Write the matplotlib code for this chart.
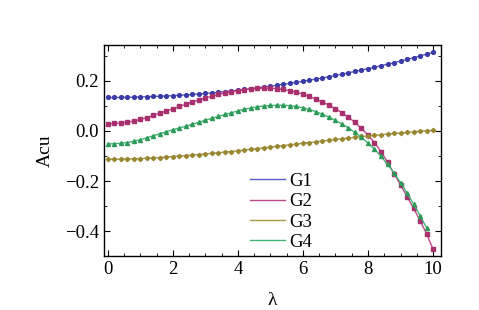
import matplotlib.pyplot as plt
from matplotlib.ticker import MultipleLocator
import numpy as np

# lambda grid (step 0.2)
lam = [round(0.2 * i, 1) for i in range(51)]

g1 = [0.134, 0.134, 0.134, 0.135, 0.135, 0.136, 0.137, 0.138, 0.139, 0.140,
      0.141, 0.143, 0.144, 0.146, 0.148, 0.150, 0.152, 0.155, 0.157, 0.160,
      0.163, 0.166, 0.169, 0.172, 0.176, 0.179, 0.183, 0.187, 0.190, 0.195,
      0.199, 0.203, 0.208, 0.212, 0.217, 0.222, 0.227, 0.233, 0.238, 0.244,
      0.249, 0.255, 0.261, 0.267, 0.273, 0.280, 0.286, 0.293, 0.300, 0.307,
      0.314]

g2 = [0.029, 0.030, 0.032, 0.035, 0.040, 0.046, 0.053, 0.062, 0.071, 0.080,
      0.089, 0.098, 0.107, 0.116, 0.124, 0.132, 0.139, 0.146, 0.152, 0.157,
      0.161, 0.165, 0.168, 0.170, 0.171, 0.171, 0.169, 0.166, 0.161, 0.155,
      0.147, 0.138, 0.127, 0.116, 0.103, 0.089, 0.073, 0.055, 0.034, 0.010,
      -0.016, -0.046, -0.082, -0.124, -0.170, -0.216, -0.262, -0.309, -0.358, -0.410,
      -0.473]

g3 = [-0.113, -0.113, -0.112, -0.112, -0.111, -0.110, -0.109, -0.107, -0.106, -0.104,
      -0.102, -0.100, -0.098, -0.096, -0.094, -0.092, -0.089, -0.087, -0.084, -0.082,
      -0.079, -0.076, -0.073, -0.070, -0.067, -0.064, -0.061, -0.058, -0.055, -0.052,
      -0.049, -0.046, -0.043, -0.040, -0.037, -0.034, -0.031, -0.028, -0.025, -0.022,
      -0.020, -0.017, -0.015, -0.012, -0.010, -0.008, -0.006, -0.003, -0.001, 0.001,
      0.003]

# G4 stops one step earlier
g4 = [-0.052, -0.051, -0.049, -0.046, -0.041, -0.035, -0.027, -0.019, -0.011, -0.003,
      0.005, 0.012, 0.019, 0.027, 0.035, 0.043, 0.051, 0.058, 0.066, 0.073,
      0.080, 0.087, 0.092, 0.097, 0.100, 0.102, 0.103, 0.103, 0.101, 0.098,
      0.093, 0.086, 0.077, 0.067, 0.055, 0.042, 0.028, 0.012, -0.006, -0.026,
      -0.048, -0.073, -0.101, -0.133, -0.168, -0.206, -0.248, -0.292, -0.338, -0.386]

labels = ["G1", "G2", "G3", "G4"]
line_colors = ["#5c5cc4", "#c2488e", "#a99a4e", "#46b474"]
marker_colors = ["#3b3ba8", "#a8306e", "#9a8630", "#2e9a58"]
markers = ["o", "s", "D", "^"]
marker_sizes = [2.7, 2.6, 2.2, 2.9]

plt.rcParams['font.family'] = ['Liberation Serif', 'DejaVu Serif']

fig = plt.figure(figsize=(4.79, 3.10), dpi=100)
ax = fig.add_axes([0.217, 0.174, 0.704, 0.681])

series = [g1, g2, g3, g4]
for ys, lab, lc, mc, mk, ms in zip(series, labels, line_colors, marker_colors, markers, marker_sizes):
    xs = lam[:len(ys)]
    ax.plot(xs, ys, color=lc, lw=1.0, label=lab)
    ax.plot(xs, ys, linestyle='none', marker=mk, ms=ms, color=mc, mec=mc)

ax.set_xlim(-0.12, 10.25)
ax.set_ylim(-0.5, 0.344)
ax.xaxis.set_major_locator(MultipleLocator(2))
ax.xaxis.set_minor_locator(MultipleLocator(0.5))
ax.yaxis.set_major_locator(MultipleLocator(0.2))
ax.yaxis.set_minor_locator(MultipleLocator(0.1))
ax.yaxis.set_major_formatter(plt.FuncFormatter(lambda v, p: f"{v:.1f}".replace("-", "\u2212")))

ax.tick_params(axis='both', which='both', direction='in', top=True, right=True, labelsize=13.5)
ax.tick_params(which='major', length=4.5, width=0.8)
ax.tick_params(which='minor', length=2.2, width=0.6)
for sp in ax.spines.values():
    sp.set_linewidth(1.0)

ax.set_xlabel("λ", fontsize=14, labelpad=10)
ax.set_ylabel("Acu", fontsize=14, labelpad=8)

ax.legend(loc='upper left', bbox_to_anchor=(0.41, 0.43), frameon=False, fontsize=13.5,
          handlelength=1.9, handletextpad=0.2, labelspacing=0.17, borderaxespad=0)

fig.savefig("out.png", dpi=100)
